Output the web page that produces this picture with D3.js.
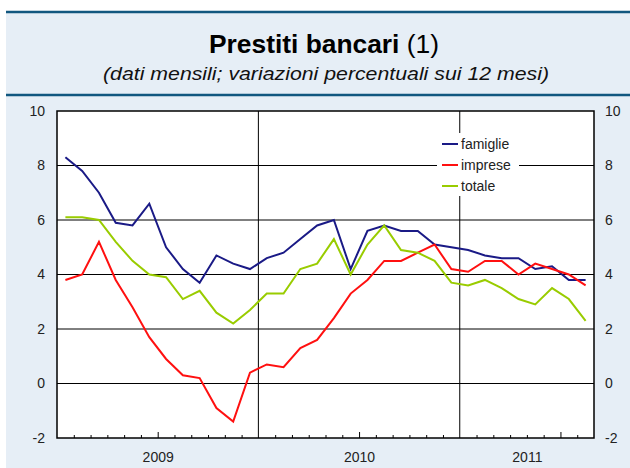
<!DOCTYPE html>
<html>
<head>
  <meta charset="utf-8">
  <style type="text/css">
  body {
    margin: 0;
    font-family: "Liberation Sans", Arial, sans-serif;
  }
  .axis text {
    font-family: "Liberation Sans", Arial, sans-serif;
    font-size: 14px;
    fill: #222;
  }
  .axis path {
    display: none;
  }
  .grid line {
    stroke: #000;
    stroke-width: 1px;
  }
  .legend text {
    font-size: 14px;
    fill: #222;
  }
  </style>
</head>
<body>
  <script src="https://d3js.org/d3.v7.min.js"></script>
  <script>
    // monthly data, Jan 2009 - Aug 2011
    var months = ["2009-01","2009-02","2009-03","2009-04","2009-05","2009-06","2009-07","2009-08","2009-09","2009-10","2009-11","2009-12",
                  "2010-01","2010-02","2010-03","2010-04","2010-05","2010-06","2010-07","2010-08","2010-09","2010-10","2010-11","2010-12",
                  "2011-01","2011-02","2011-03","2011-04","2011-05","2011-06","2011-07","2011-08"];
    var famiglie = [8.3, 7.8, 7.0, 5.9, 5.8, 6.6, 5.0, 4.2, 3.7, 4.7, 4.4, 4.2,
                    4.6, 4.8, 5.3, 5.8, 6.0, 4.2, 5.6, 5.8, 5.6, 5.6, 5.1, 5.0,
                    4.9, 4.7, 4.6, 4.6, 4.2, 4.3, 3.8, 3.8];
    var imprese = [3.8, 4.0, 5.2, 3.8, 2.8, 1.7, 0.9, 0.3, 0.2, -0.9, -1.4, 0.4,
                   0.7, 0.6, 1.3, 1.6, 2.4, 3.3, 3.8, 4.5, 4.5, 4.8, 5.1, 4.2,
                   4.1, 4.5, 4.5, 4.0, 4.4, 4.2, 4.0, 3.6];
    var totale = [6.1, 6.1, 6.0, 5.2, 4.5, 4.0, 3.9, 3.1, 3.4, 2.6, 2.2, 2.7,
                  3.3, 3.3, 4.2, 4.4, 5.3, 4.0, 5.1, 5.8, 4.9, 4.8, 4.5, 3.7,
                  3.6, 3.8, 3.5, 3.1, 2.9, 3.5, 3.1, 2.3];
    var yTicks = [-2, 0, 2, 4, 6, 8, 10];
    var years = [{label: "2009", start: 0, end: 12},
                 {label: "2010", start: 12, end: 24},
                 {label: "2011", start: 24, end: 32}];
    var series = [
      {name: "famiglie", values: famiglie, color: "#1a1a86"},
      {name: "imprese", values: imprese, color: "#ff1010"},
      {name: "totale", values: totale, color: "#99cc00"}
    ];

    var W = 630, H = 468;
    var svg = d3.select("body").append("svg")
        .attr("width", W)
        .attr("height", H);

    // header panel
    svg.append("rect")
        .attr("x", 6).attr("y", 12)
        .attr("width", W - 6).attr("height", H - 12)
        .attr("fill", "#e6eef6");
    svg.append("line")
        .attr("x1", 6).attr("x2", W).attr("y1", 12).attr("y2", 12)
        .attr("stroke", "#11577f").attr("stroke-width", 2.5);
    svg.append("line")
        .attr("x1", 6).attr("x2", W).attr("y1", 95).attr("y2", 95)
        .attr("stroke", "#11577f").attr("stroke-width", 2.5);
    svg.append("text")
        .attr("x", 557).attr("y", -4)
        .attr("font-size", 20).attr("font-weight", "bold")
        .attr("fill", "#1b6193")
        .text("g");

    var title = svg.append("text")
        .attr("x", 324).attr("y", 53)
        .attr("text-anchor", "middle")
        .attr("font-size", 25)
        .attr("fill", "#000")
        .attr("textLength", 230)
        .attr("lengthAdjust", "spacingAndGlyphs");
    title.append("tspan").attr("font-weight", "bold").text("Prestiti bancari");
    title.append("tspan").text(" (1)");

    svg.append("text")
        .attr("x", 326).attr("y", 80)
        .attr("text-anchor", "middle")
        .attr("font-size", 19)
        .attr("font-style", "italic")
        .attr("fill", "#111")
        .attr("textLength", 446)
        .attr("lengthAdjust", "spacingAndGlyphs")
        .text("(dati mensili; variazioni percentuali sui 12 mesi)");

    // plot area
    var plotLeft = 57, plotRight = 594, plotTop = 111, plotBottom = 438;
    var x = d3.scaleLinear()
        .domain([0, months.length])
        .range([plotLeft, plotRight]);
    var y = d3.scaleLinear()
        .domain([-2, 10])
        .range([plotBottom, plotTop]);

    svg.append("rect")
        .attr("x", plotLeft).attr("y", plotTop)
        .attr("width", plotRight - plotLeft).attr("height", plotBottom - plotTop)
        .attr("fill", "#fff");

    var grid = svg.append("g").attr("class", "grid");
    grid.selectAll(".h")
        .data(yTicks.slice(1, -1))
      .enter().append("line")
        .attr("x1", plotLeft).attr("x2", plotRight)
        .attr("y1", function(d) { return y(d); })
        .attr("y2", function(d) { return y(d); });
    grid.selectAll(".v")
        .data(years.slice(1))
      .enter().append("line")
        .attr("y1", plotTop).attr("y2", plotBottom)
        .attr("x1", function(d) { return x(d.start); })
        .attr("x2", function(d) { return x(d.start); });

    // month ticks inside the plot
    var monthTicks = d3.range(1, months.length).filter(function(i) { return i % 12 !== 0; });
    var xTickAxis = d3.axisBottom(x)
        .tickValues(monthTicks)
        .tickSize(0)
        .tickFormat("");
    svg.append("g")
        .attr("class", "axis")
        .attr("transform", "translate(0," + plotBottom + ")")
        .call(xTickAxis)
        .selectAll(".tick line")
        .attr("y2", function(d) { return d % 12 === 6 ? -6 : -3; })
        .attr("stroke", "#000");

    var xAxis = d3.axisBottom(x)
        .tickValues(years.map(function(d) { return (d.start + d.end) / 2; }))
        .tickSize(0)
        .tickPadding(14)
        .tickFormat(function(d, i) { return years[i].label; });
    svg.append("g")
        .attr("class", "axis")
        .attr("transform", "translate(0," + plotBottom + ")")
        .call(xAxis);

    var yLeft = d3.axisLeft(y).tickValues(yTicks).tickSize(0).tickPadding(12).tickFormat(String);
    var yRight = d3.axisRight(y).tickValues(yTicks).tickSize(0).tickPadding(11).tickFormat(String);
    svg.append("g").attr("class", "axis")
        .attr("transform", "translate(" + plotLeft + ",0)")
        .call(yLeft);
    svg.append("g").attr("class", "axis")
        .attr("transform", "translate(" + plotRight + ",0)")
        .call(yRight);

    // legend box (white, covers gridlines)
    var legend = svg.append("g").attr("class", "legend");
    legend.append("rect")
        .attr("x", 437).attr("y", 133)
        .attr("width", 82).attr("height", 63)
        .attr("fill", "#fff");
    var entry = legend.selectAll(".entry")
        .data(series)
      .enter().append("g")
        .attr("transform", function(d, i) { return "translate(442," + (144 + i * 21) + ")"; });
    entry.append("line")
        .attr("x1", 0).attr("x2", 16)
        .attr("stroke", function(d) { return d.color; })
        .attr("stroke-width", 2);
    entry.append("text")
        .attr("x", 19)
        .attr("dy", "0.35em")
        .text(function(d) { return d.name; });

    // series lines
    var line = d3.line()
        .x(function(d, i) { return x(i + 0.5); })
        .y(function(d) { return y(d); });
    svg.selectAll(".series")
        .data(series)
      .enter().append("path")
        .attr("class", "series")
        .attr("fill", "none")
        .attr("stroke", function(d) { return d.color; })
        .attr("stroke-width", 2)
        .attr("d", function(d) { return line(d.values); });

    // frame
    svg.append("rect")
        .attr("x", plotLeft).attr("y", plotTop)
        .attr("width", plotRight - plotLeft).attr("height", plotBottom - plotTop)
        .attr("fill", "none")
        .attr("stroke", "#000")
        .attr("stroke-width", 1.5);
  </script>
</body>
</html>
